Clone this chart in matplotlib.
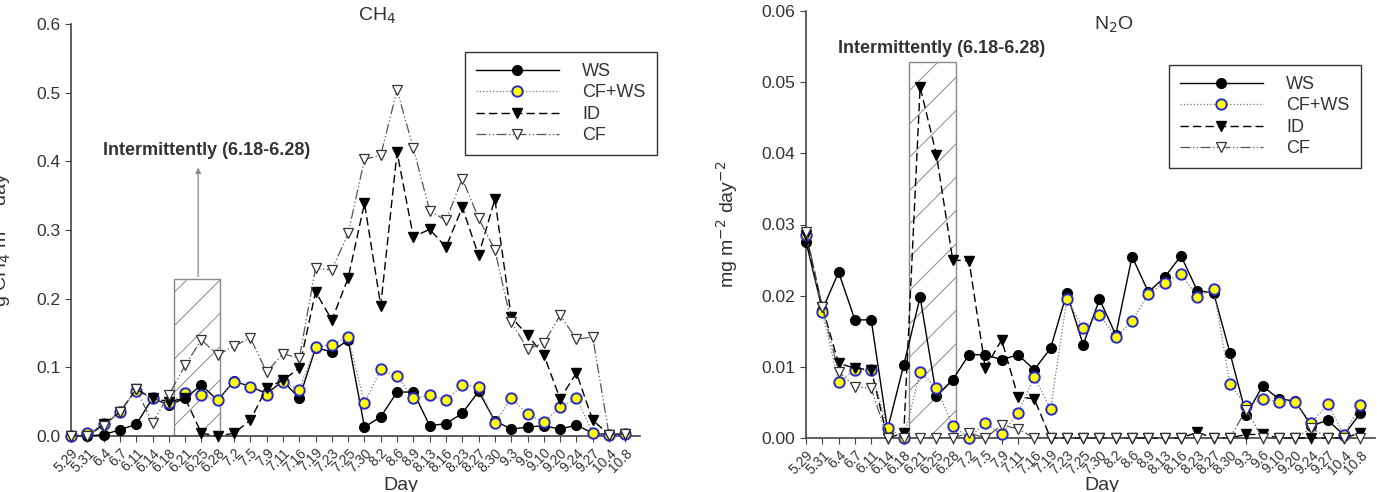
import matplotlib
matplotlib.use("Agg")
import matplotlib.pyplot as plt
from matplotlib.patches import Rectangle

plt.rcParams['font.family'] = ['Liberation Sans', 'DejaVu Sans']
plt.rcParams['hatch.linewidth'] = 0.7

days = ["5.29", "5.31", "6.4", "6.7", "6.11", "6.14", "6.18", "6.21", "6.25", "6.28",
        "7.2", "7.5", "7.9", "7.11", "7.16", "7.19", "7.23", "7.25", "7.30", "8.2",
        "8.6", "8.9", "8.13", "8.16", "8.23", "8.27", "8.30", "9.3", "9.6", "9.10",
        "9.20", "9.24", "9.27", "10.4", "10.8"]

# CH4 (g CH4 m-2 day-1)
ch4_ws = [0.0, 0.0, 0.002, 0.009, 0.017, 0.055, 0.045, 0.055, 0.074, 0.052,
          0.080, 0.072, 0.062, 0.080, 0.055, 0.128, 0.123, 0.140, 0.013, 0.028,
          0.064, 0.064, 0.015, 0.018, 0.033, 0.065, 0.022, 0.010, 0.013, 0.015,
          0.010, 0.016, 0.004, 0.002, 0.003]
ch4_cfws = [0.0, 0.004, 0.017, 0.035, 0.066, 0.055, 0.048, 0.062, 0.060, 0.052,
            0.079, 0.072, 0.060, 0.079, 0.067, 0.130, 0.133, 0.144, 0.048, 0.097,
            0.087, 0.055, 0.059, 0.052, 0.074, 0.072, 0.019, 0.055, 0.032, 0.020,
            0.042, 0.055, 0.005, 0.002, 0.003]
ch4_id = [0.0, 0.0, 0.017, 0.035, 0.068, 0.055, 0.050, 0.055, 0.004, 0.0,
          0.004, 0.023, 0.070, 0.081, 0.099, 0.210, 0.169, 0.230, 0.339, 0.190,
          0.413, 0.290, 0.301, 0.275, 0.333, 0.263, 0.345, 0.173, 0.147, 0.118,
          0.054, 0.092, 0.023, 0.002, 0.003]
ch4_cf = [0.0, 0.0, 0.015, 0.035, 0.068, 0.019, 0.060, 0.103, 0.140, 0.118,
          0.131, 0.143, 0.093, 0.120, 0.113, 0.244, 0.242, 0.295, 0.403, 0.409,
          0.504, 0.419, 0.328, 0.314, 0.375, 0.317, 0.271, 0.166, 0.127, 0.135,
          0.176, 0.141, 0.144, 0.002, 0.003]

# N2O (mg m-2 day-2)
n2o_ws = [0.0276, 0.0180, 0.0233, 0.0166, 0.0166, 0.0012, 0.0103, 0.0198, 0.0059, 0.0082,
          0.0117, 0.0117, 0.0110, 0.0117, 0.0096, 0.0126, 0.0204, 0.0131, 0.0195, 0.0145,
          0.0255, 0.0205, 0.0226, 0.0256, 0.0207, 0.0204, 0.0120, 0.0032, 0.0073, 0.0055,
          0.0052, 0.0017, 0.0025, 0.0004, 0.0035]
n2o_cfws = [0.0285, 0.0177, 0.0079, 0.0096, 0.0095, 0.0014, 0.0, 0.0093, 0.0070, 0.0017,
            0.0, 0.0021, 0.0005, 0.0035, 0.0086, 0.0041, 0.0195, 0.0155, 0.0173, 0.0142,
            0.0164, 0.0203, 0.0218, 0.0231, 0.0198, 0.0210, 0.0076, 0.0045, 0.0055, 0.0051,
            0.0051, 0.0021, 0.0048, 0.0004, 0.0047]
n2o_id = [0.0285, 0.0184, 0.0105, 0.0098, 0.0096, 0.0, 0.0007, 0.0493, 0.0398, 0.0250,
          0.0249, 0.0098, 0.0138, 0.0058, 0.0055, 0.0, 0.0, 0.0, 0.0, 0.0,
          0.0, 0.0, 0.0, 0.0, 0.0008, 0.0, 0.0, 0.0005, 0.0005, 0.0,
          0.0, 0.0, 0.0, 0.0, 0.0007]
n2o_cf = [0.0290, 0.0184, 0.0093, 0.0072, 0.0070, 0.0, 0.0, 0.0, 0.0, 0.0,
          0.0007, 0.0, 0.0018, 0.0013, 0.0, 0.0, 0.0, 0.0, 0.0, 0.0,
          0.0, 0.0, 0.0, 0.0, 0.0, 0.0, 0.0, 0.0040, 0.0, 0.0,
          0.0, 0.0014, 0.0, 0.0, 0.0]

x = list(range(len(days)))
GRAY = "#444444"
TXT = "#333333"

fig = plt.figure(figsize=(13.77, 4.92), dpi=100)
ax1 = fig.add_axes([71/1377, 1-436/492, 569/1377, 412/492])
ax2 = fig.add_axes([806/1377, 1-438/492, 569/1377, 427/492])


def draw(ax, ws, cfws, idd, cf):
    ax.plot(x, ws, "-", color="black", lw=1.0, marker="o", ms=7, mfc="black",
            mec="black", clip_on=False, zorder=3, label="WS")
    ax.plot(x, cfws, ":", color="#777777", lw=0.9, marker="o", ms=7.5, mfc="#ffff00",
            mec="#2a2ad0", mew=1.4, clip_on=False, zorder=4, label="CF+WS")
    ax.plot(x, idd, color="black", lw=1.0, dashes=(6, 3), marker="v", ms=7.5,
            mfc="black", mec="black", clip_on=False, zorder=5, label="ID")
    ax.plot(x, cf, color="#555555", lw=0.9, dashes=(8, 2, 1, 2, 1, 2), marker="v", ms=7.5,
            mfc="white", mec="#333333", mew=0.9, clip_on=False, zorder=6, label="CF")
    ax.set_xlim(0, 34.9)
    ax.set_xticks(x)
    ax.set_xticklabels(days, rotation=45, ha="right", rotation_mode="anchor",
                       fontsize=10, color=TXT)
    for s in ["top", "right"]:
        ax.spines[s].set_visible(False)
    for s in ["left", "bottom"]:
        ax.spines[s].set_color(GRAY)
        ax.spines[s].set_linewidth(1.2)
    ax.tick_params(direction="out", length=4, color=GRAY, labelsize=12.5,
                   labelcolor=TXT)
    ax.tick_params(axis="x", pad=3, labelsize=10)


draw(ax1, ch4_ws, ch4_cfws, ch4_id, ch4_cf)
ax1.set_ylim(0, 0.6)
ax1.set_yticks([0.0, 0.1, 0.2, 0.3, 0.4, 0.5, 0.6])
ax1.set_yticklabels(["0.0", "0.1", "0.2", "0.3", "0.4", "0.5", "0.6"])
ax1.set_ylabel("g CH$_4$ m$^{-2}$ day$^{-1}$", fontsize=14, color=TXT)
ax1.yaxis.set_label_coords(-0.102, 0.5)
ax1.add_patch(Rectangle((6.3, 0), 2.85, 0.228, facecolor="none", edgecolor="#888888",
                        hatch="/", lw=1.0, zorder=1))
ax1.annotate("", xy=(7.8, 0.395), xytext=(7.8, 0.228),
             arrowprops=dict(arrowstyle="-|>", color="#888888", lw=0.9, mutation_scale=8))
ax1.text(8.34, 0.416, "Intermittently (6.18-6.28)", ha="center", va="center",
         fontsize=13, fontweight="bold", color=TXT)

draw(ax2, n2o_ws, n2o_cfws, n2o_id, n2o_cf)
ax2.set_ylim(0, 0.06)
ax2.set_yticks([0.0, 0.01, 0.02, 0.03, 0.04, 0.05, 0.06])
ax2.set_yticklabels(["0.00", "0.01", "0.02", "0.03", "0.04", "0.05", "0.06"])
ax2.set_ylabel("mg m$^{-2}$ day$^{-2}$", fontsize=14, color=TXT)
ax2.yaxis.set_label_coords(-0.116, 0.5)
ax2.add_patch(Rectangle((6.3, 0), 2.87, 0.0529, facecolor="none", edgecolor="#888888",
                        hatch="/", lw=1.0, zorder=1))
ax2.text(8.3, 0.0548, "Intermittently (6.18-6.28)", ha="center", va="center",
         fontsize=13, fontweight="bold", color=TXT)

for ax, bx, by in [(ax1, 465/1377, 1-52/492), (ax2, 1169/1377, 1-65/492)]:
    leg = ax.legend(loc="upper left", bbox_to_anchor=(bx, by), bbox_transform=fig.transFigure,
                    borderaxespad=0, fontsize=13, numpoints=1, handlelength=4.6,
                    handletextpad=1.3, labelspacing=0.25, fancybox=False,
                    edgecolor=TXT, framealpha=1, borderpad=0.6)
    leg.get_frame().set_linewidth(1.0)
    for t in leg.get_texts():
        t.set_color(TXT)

fig.text(377/1377, 1-16/492, "CH$_4$", ha="center", va="center", fontsize=14, color=TXT)
fig.text(1114/1377, 1-25/492, "N$_2$O", ha="center", va="center", fontsize=14, color=TXT)
fig.text(401/1377, 1-485/492, "Day", ha="center", va="center", fontsize=14, color=TXT)
fig.text(1102/1377, 1-485/492, "Day", ha="center", va="center", fontsize=14, color=TXT)

fig.savefig("out.png", dpi=100)
